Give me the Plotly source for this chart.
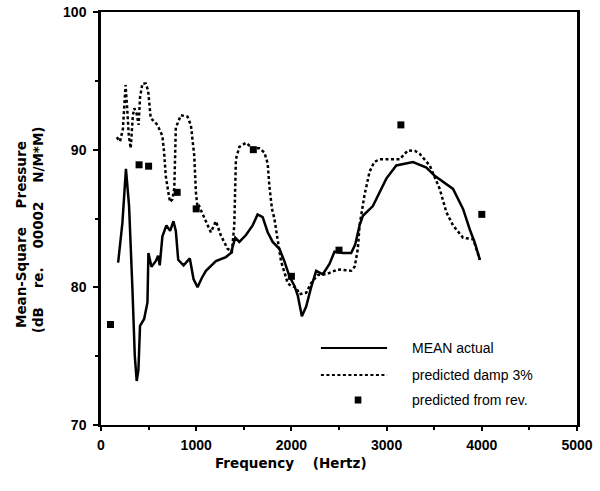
import plotly.graph_objects as go

# ---- data ----
freq_mean = [180, 225, 262, 295, 330, 355, 375, 393, 410, 453,
             488, 498, 530, 575, 600, 617, 645, 687, 726, 761,
             786, 811, 867, 933, 972, 1014, 1060, 1102, 1207, 1312,
             1365, 1410, 1453, 1523, 1593, 1645, 1698, 1751, 1803, 1874,
             1926, 1979, 2032, 2067, 2110, 2155, 2207, 2260, 2330, 2400,
             2453, 2540, 2628, 2670, 2716, 2751, 2856, 2926, 2997, 3102,
             3277, 3418, 3505, 3698, 3803, 3874, 3926, 3980]
mean_actual = [81.8, 84.7, 88.6, 85.9, 79.9, 75.0, 73.2, 74.0, 77.2, 77.7,
               78.9, 82.5, 81.5, 81.9, 82.3, 81.6, 83.7, 84.5, 84.1, 84.8,
               84.1, 82.0, 81.6, 82.1, 80.6, 80.0, 80.7, 81.2, 81.9, 82.2,
               82.5, 83.6, 83.3, 83.8, 84.5, 85.3, 85.1, 84.0, 83.3, 82.8,
               81.9, 80.8, 80.1, 79.4, 77.9, 78.6, 80.0, 81.2, 80.95, 81.7,
               82.6, 82.5, 82.5, 83.1, 84.5, 85.2, 85.9, 86.9, 87.9, 88.85,
               89.1, 88.7, 88.1, 87.15, 85.7, 84.2, 83.25, 82.0]

freq_pred = [165, 200, 230, 258, 275, 292, 312, 335, 350, 375,
             395, 410, 435, 470, 495, 522, 593, 645, 663, 680,
             705, 725, 750, 770, 786, 839, 908, 944, 979, 997,
             1014, 1031, 1102, 1154, 1207, 1260, 1330, 1375, 1400, 1417,
             1453, 1523, 1593, 1663, 1716, 1751, 1768, 1796, 1821, 1856,
             1891, 1926, 1961, 1996, 2049, 2084, 2155, 2207, 2277, 2365,
             2488, 2628, 2665, 2698, 2716, 2768, 2821, 2870, 2926, 3050,
             3137, 3224, 3300, 3347, 3453, 3558, 3628, 3698, 3803, 3909, 3980]
pred_damp = [90.9, 90.6, 91.5, 94.7, 93.0, 91.0, 90.1, 92.5, 93.0, 92.6,
             91.8, 93.8, 94.8, 94.8, 94.3, 92.3, 91.8, 91.0, 89.8, 88.1,
             87.0, 86.2, 86.4, 87.2, 91.6, 92.5, 92.4, 91.8, 89.6, 86.9,
             85.8, 85.9, 84.8, 84.0, 84.8, 83.75, 82.8, 82.6, 84.5, 89.3,
             90.2, 90.5, 90.1, 90.1, 89.8, 89.0, 87.4, 85.7, 85.0, 83.3,
             81.9, 81.1, 80.3, 80.1, 80.0, 79.5, 79.6, 80.3, 80.9, 80.95,
             81.3, 81.2, 81.5, 82.8, 84.5, 86.7, 88.4, 89.1, 89.3, 89.3,
             89.3, 89.95, 89.9, 89.7, 88.85, 87.15, 85.45, 84.5, 83.6, 83.5, 82.0]

freq_rev = [100, 400, 500, 800, 1000, 1600, 2000, 2500, 3150, 4000]
pred_rev = [77.3, 88.9, 88.8, 86.9, 85.7, 90.0, 80.8, 82.7, 91.8, 85.3]

x_ticks = [0, 1000, 2000, 3000, 4000, 5000]
y_ticks = [70, 80, 90, 100]

series_names = ["MEAN actual", "predicted damp 3%", "predicted from rev."]

# ---- figure ----
fig = go.Figure()
fig.add_trace(go.Scatter(x=freq_mean, y=mean_actual, mode="lines",
                         line=dict(color="black", width=2.5),
                         name=series_names[0], showlegend=False))
fig.add_trace(go.Scatter(x=freq_pred, y=pred_damp, mode="lines",
                         line=dict(color="black", width=2.5, dash="3px,2.5px"),
                         name=series_names[1], showlegend=False))
fig.add_trace(go.Scatter(x=freq_rev, y=pred_rev, mode="markers",
                         marker=dict(symbol="square", size=7, color="black"),
                         name=series_names[2], showlegend=False))

tickfont = dict(family="Liberation Sans, Arial, sans-serif", size=14,
                color="black", weight="bold")

fig.update_xaxes(range=[0, 5000], tickvals=x_ticks, ticktext=[str(v) for v in x_ticks],
                 showline=True, mirror=True, linecolor="black", linewidth=2,
                 ticks="outside", ticklen=4, tickwidth=1.5, tickcolor="black",
                 minor=dict(dtick=500, ticks="outside", ticklen=3, tickcolor="black"),
                 showgrid=False, zeroline=False, tickfont=tickfont,
                 ticklabelstandoff=2, automargin=False, ticklabeloverflow="allow")
fig.update_yaxes(range=[70, 100], tickvals=y_ticks, ticktext=[str(v) for v in y_ticks],
                 showline=True, mirror=True, linecolor="black", linewidth=2.5,
                 ticks="outside", ticklen=5, tickwidth=1.5, tickcolor="black",
                 minor=dict(dtick=5, ticks="outside", ticklen=3, tickcolor="black"),
                 showgrid=False, zeroline=False, tickfont=tickfont,
                 ticklabelstandoff=4, automargin=False, ticklabeloverflow="allow")

titlefont = dict(family="DejaVu Sans, Liberation Sans, sans-serif", size=13.5,
                 color="black", weight="bold")
legfont = dict(family="Liberation Sans, Arial, sans-serif", size=14, color="black")

annotations = [
    dict(text="Frequency\u00a0\u00a0\u00a0\u00a0(Hertz)", xref="paper", yref="paper",
         x=0.399, y=-0.092, xanchor="center", yanchor="middle", showarrow=False,
         font=titlefont),
    dict(text="Mean-Square\u00a0\u00a0\u00a0\u00a0Pressure", xref="paper", yref="paper",
         x=-0.168, y=0.46, xanchor="center", yanchor="middle", showarrow=False,
         textangle=-90, font=titlefont),
    dict(text="(dB\u00a0\u00a0\u00a0\u00a0re.\u00a0\u00a0\u00a0\u00a000002\u00a0\u00a0\u00a0\u00a0N/M*M)",
         xref="paper", yref="paper",
         x=-0.132, y=0.472, xanchor="center", yanchor="middle", showarrow=False,
         textangle=-90, font=titlefont),
]
leg_y = [0.1864, 0.121, 0.0605]
for name, yy in zip(series_names, leg_y):
    annotations.append(dict(text=name, xref="paper", yref="paper", x=0.649, y=yy,
                            xanchor="left", yanchor="middle", showarrow=False,
                            font=legfont))

shapes = [
    dict(type="line", xref="paper", yref="paper", x0=0.462, x1=0.601,
         y0=leg_y[0], y1=leg_y[0], line=dict(color="black", width=2)),
    dict(type="line", xref="paper", yref="paper", x0=0.462, x1=0.601,
         y0=leg_y[1], y1=leg_y[1], line=dict(color="black", width=2, dash="3px,2.5px")),
    dict(type="rect", xref="paper", yref="paper", x0=0.533, x1=0.547,
         y0=leg_y[2] - 0.0085, y1=leg_y[2] + 0.0085,
         line=dict(width=0), fillcolor="black"),
]

fig.update_layout(width=600, height=491,
                  margin=dict(l=101, r=23, t=12, b=66, autoexpand=False),
                  plot_bgcolor="white", paper_bgcolor="white",
                  annotations=annotations, shapes=shapes, showlegend=False)

# remove the page's default 8px body margin so the figure fills the window
fig.write_html("out.html",
               config={"displayModeBar": False},
               post_script="document.body.style.margin='0';document.body.style.overflow='hidden';")
